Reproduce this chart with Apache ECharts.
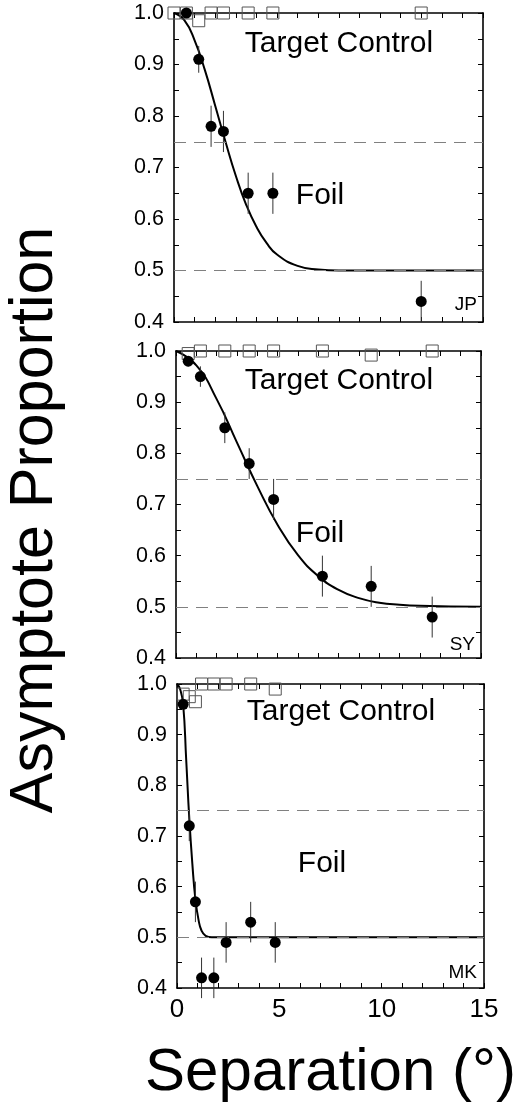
<!DOCTYPE html>
<html>
<head>
<meta charset="utf-8">
<script src="https://cdn.jsdelivr.net/npm/echarts@6/dist/echarts.min.js"></script>
<style>
  html, body { margin: 0; padding: 0; background: #fff; }
  #chart { width: 527px; height: 1108px; }
</style>
</head>
<body>
<div id="chart"></div>
<script>
// observer JP
const jpFoilX = [0.6, 1.2, 1.8, 2.4, 3.6, 4.8, 12.0]
const jpFoilY = [1.0, 0.91, 0.78, 0.77, 0.65, 0.65, 0.44]
const jpFoilErr = [0.0, 0.026, 0.04, 0.04, 0.04, 0.04, 0.04]
const jpCtrlX = [0.0, 0.6, 1.2, 1.8, 2.4, 3.6, 4.8, 12.0]
const jpCtrlY = [1.0, 1.0, 0.985, 1.0, 1.0, 1.0, 1.0, 1.0]
const jpCurveX = [0, 0.5, 1, 1.5, 2, 2.5, 3, 3.5, 4, 4.5, 5, 6, 7, 8, 9, 15]
const jpCurveY = [1.0, 0.986, 0.947, 0.889, 0.82, 0.75, 0.684, 0.628, 0.585, 0.553, 0.531, 0.509, 0.502, 0.5, 0.5, 0.5]

// observer SY
const syFoilX = [0.6, 1.2, 2.4, 3.6, 4.8, 7.2, 9.6, 12.6]
const syFoilY = [0.98, 0.95, 0.85, 0.78, 0.71, 0.56, 0.54, 0.48]
const syFoilErr = [0.01, 0.02, 0.03, 0.03, 0.04, 0.04, 0.04, 0.04]
const syCtrlX = [0.6, 1.2, 2.4, 3.6, 4.8, 7.2, 9.6, 12.6]
const syCtrlY = [0.995, 1.0, 1.0, 1.0, 1.0, 1.0, 0.992, 1.0]
const syCurveX = [0, 1, 2, 3, 4, 5, 6, 7, 8, 9, 10, 11, 12, 15]
const syCurveY = [1.0, 0.972, 0.906, 0.821, 0.736, 0.66, 0.601, 0.56, 0.533, 0.517, 0.508, 0.504, 0.502, 0.5]

// observer MK
const mkFoilX = [0.3, 0.6, 0.9, 1.2, 1.8, 2.4, 3.6, 4.8]
const mkFoilY = [0.96, 0.72, 0.57, 0.42, 0.42, 0.49, 0.53, 0.49]
const mkFoilErr = [0.01, 0.03, 0.04, 0.04, 0.04, 0.04, 0.04, 0.04]
const mkCtrlX = [0.3, 0.6, 0.9, 1.2, 1.8, 2.4, 3.6, 4.8]
const mkCtrlY = [0.98, 0.975, 0.965, 1.0, 1.0, 1.0, 1.0, 0.99]
const mkCurveX = [0, 0.15, 0.3, 0.45, 0.6, 0.75, 0.9, 1.05, 1.2, 1.4, 1.7, 15]
const mkCurveY = [1.0, 0.99, 0.96, 0.85, 0.735, 0.645, 0.575, 0.535, 0.513, 0.503, 0.5, 0.5]

const FONT = 'Liberation Sans, Arial, Helvetica, sans-serif'
const zip = (a, b) => a.map((v, k) => [v, b[k]])

const grids = [
  { left: 174, top: 13, width: 309, height: 309 },
  { left: 176, top: 351, width: 305, height: 307 },
  { left: 177, top: 684, width: 307, height: 304 }
]

const panels = [
  { foilX: jpFoilX, foilY: jpFoilY, err: jpFoilErr, ctrlX: jpCtrlX, ctrlY: jpCtrlY, curveX: jpCurveX, curveY: jpCurveY },
  { foilX: syFoilX, foilY: syFoilY, err: syFoilErr, ctrlX: syCtrlX, ctrlY: syCtrlY, curveX: syCurveX, curveY: syCurveY },
  { foilX: mkFoilX, foilY: mkFoilY, err: mkFoilErr, ctrlX: mkCtrlX, ctrlY: mkCtrlY, curveX: mkCurveX, curveY: mkCurveY }
]

const xAxes = []
const yAxes = []
const series = []

const axisLine = { show: true, onZero: false, lineStyle: { color: '#000', width: 1.6 } }
const tick = { show: true, inside: true, length: 5, lineStyle: { color: '#000', width: 1 } }

panels.forEach((p, i) => {
  const last = i === panels.length - 1
  // bottom + top x axes
  xAxes.push({
    type: 'value', gridIndex: i, position: 'bottom', min: 0, max: 15, interval: 1,
    axisLine: axisLine, axisTick: tick, splitLine: { show: false },
    axisLabel: {
      show: last, color: '#000', fontSize: 26, fontFamily: FONT, margin: 9,
      formatter: v => (v % 5 === 0 ? String(v) : '')
    },
    name: last ? 'Separation (°)' : '',
    nameLocation: 'middle', nameGap: 55,
    nameTextStyle: { color: '#000', fontSize: 60, fontFamily: FONT }
  })
  xAxes.push({
    type: 'value', gridIndex: i, position: 'top', min: 0, max: 15, interval: 1,
    axisLine: axisLine, axisTick: tick, splitLine: { show: false }, axisLabel: { show: false }
  })
  // left + right y axes
  yAxes.push({
    type: 'value', gridIndex: i, position: 'left', min: 0.4, max: 1.0, interval: 0.05,
    axisLine: axisLine, axisTick: tick, splitLine: { show: false },
    axisLabel: {
      color: '#000', fontSize: 21.5, fontFamily: FONT, margin: 10,
      formatter: v => (Math.round(v * 100) % 10 === 0 ? v.toFixed(1) : '')
    }
  })
  yAxes.push({
    type: 'value', gridIndex: i, position: 'right', min: 0.4, max: 1.0, interval: 0.05,
    axisLine: axisLine, axisTick: tick, splitLine: { show: false }, axisLabel: { show: false }
  })

  const xi = i * 2
  const yi = i * 2

  // fitted curve + dashed reference lines
  series.push({
    type: 'line', xAxisIndex: xi, yAxisIndex: yi,
    data: zip(p.curveX, p.curveY),
    smooth: true, symbol: 'none', silent: true, z: 3,
    lineStyle: { color: '#000', width: 2 },
    markLine: {
      silent: true, symbol: ['none', 'none'], label: { show: false },
      lineStyle: { color: '#808080', width: 1.2, type: [12, 8] },
      data: [{ yAxis: 0.75 }, { yAxis: 0.5 }]
    }
  })
  // error bars
  series.push({
    type: 'custom', xAxisIndex: xi, yAxisIndex: yi, silent: true, z: 4,
    data: p.foilX.map((x, k) => [x, p.foilY[k], p.err[k]]),
    renderItem: (params, api) => {
      const x = api.value(0), y = api.value(1), e = api.value(2)
      const a = api.coord([x, y - e])
      const b = api.coord([x, y + e])
      return {
        type: 'line',
        shape: { x1: a[0], y1: a[1], x2: b[0], y2: b[1] },
        style: { stroke: '#333', lineWidth: 1 }
      }
    }
  })
  // control (open squares)
  series.push({
    type: 'scatter', xAxisIndex: xi, yAxisIndex: yi, clip: false, silent: true, z: 5,
    data: zip(p.ctrlX, p.ctrlY),
    symbol: 'rect', symbolSize: 12,
    itemStyle: { color: 'rgba(0,0,0,0)', borderColor: '#555', borderWidth: 1, opacity: 1 }
  })
  // foil (filled circles)
  series.push({
    type: 'scatter', xAxisIndex: xi, yAxisIndex: yi, clip: false, silent: true, z: 6,
    data: zip(p.foilX, p.foilY),
    symbol: 'circle', symbolSize: 11,
    itemStyle: { color: '#000', opacity: 1 }
  })
})

const txt = (text, x, y, size, align) => ({
  type: 'text', x: x, y: y, silent: true,
  style: { text: text, fontSize: size, fontFamily: FONT, fill: '#000', align: align || 'center', verticalAlign: 'middle' }
})

const chart = echarts.init(document.getElementById('chart'))
chart.setOption({
  animation: false,
  backgroundColor: '#fff',
  grid: grids,
  xAxis: xAxes,
  yAxis: yAxes,
  series: series,
  graphic: [
    txt('Target Control', 339, 44, 30),
    txt('Foil', 320, 196, 30),
    txt('JP', 477, 305, 19, 'right'),
    txt('Target Control', 339, 381, 30),
    txt('Foil', 320, 534, 30),
    txt('SY', 475, 645, 19, 'right'),
    txt('Target Control', 341, 712, 30),
    txt('Foil', 322, 864, 30),
    txt('MK', 477, 973, 19, 'right'),
    {
      type: 'text', x: 35, y: 520, rotation: Math.PI / 2, silent: true,
      style: { text: 'Asymptote Proportion', fontSize: 61, fontFamily: FONT, fill: '#000', align: 'center', verticalAlign: 'middle' }
    }
  ]
})
</script>
</body>
</html>
